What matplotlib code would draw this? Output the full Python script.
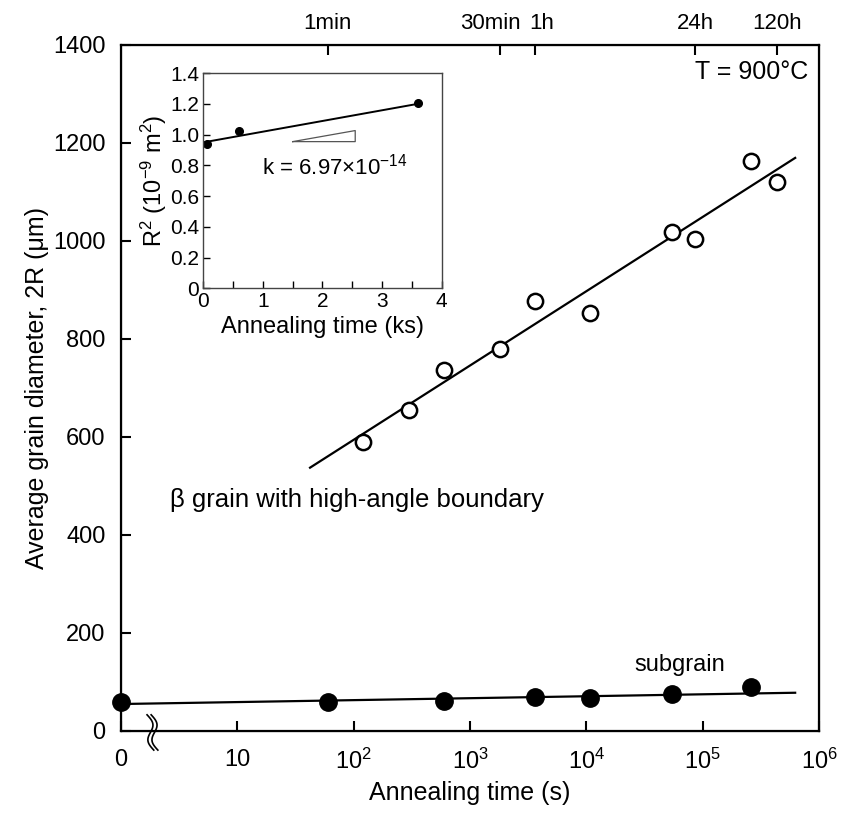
import numpy as np
import matplotlib
matplotlib.use("Agg")
import matplotlib.pyplot as plt
from matplotlib.transforms import ScaledTranslation

plt.rcParams['font.family'] = ['Liberation Sans', 'DejaVu Sans']
plt.rcParams['mathtext.fontset'] = 'custom'
plt.rcParams['mathtext.rm'] = 'Liberation Sans'
plt.rcParams['mathtext.it'] = 'Liberation Sans:italic'

# beta grains (open circles), annealing time in s, diameter in um
beta_t = [120, 300, 600, 1800, 3600, 10800, 54000, 86400, 259200, 432000]
beta_d = [589, 655, 737, 780, 878, 854, 1019, 1004, 1164, 1121]
beta_fit = (291.0, 151.6)          # d = a + b*log10(t)
beta_fit_range = (10**1.625, 10**5.795)

# subgrains (filled circles); t = 0 is drawn at the "0" position
sub_t = [0, 60, 600, 3600, 10800, 54000, 259200]
sub_d = [58.6, 59.8, 61.8, 68.8, 66.7, 74.9, 89.2]
sub_fit = (55.0, 3.97)
sub_fit_range = (1, 10**5.795)

# inset: R^2 vs time
ins_t = [0.06, 0.6, 3.6]           # ks
ins_r2 = [0.94, 1.024, 1.204]      # 10^-9 m^2
ins_fit = (0.95, 0.0697)

xticks = [1, 10, 1e2, 1e3, 1e4, 1e5, 1e6]
xticklabels = ['0', '10', '$10^2$', '$10^3$', '$10^4$', '$10^5$', '$10^6$']
top_ticks = [60, 1800, 3600, 86400, 432000]
top_labels = ['1min', '30min', '1h', '24h', '120h']

fig = plt.figure(figsize=(8.42, 8.16), dpi=100)
ax = fig.add_axes([0.1437, 0.1042, 0.829, 0.8407])

t0 = np.array([t if t > 0 else 1 for t in sub_t], dtype=float)

tt = np.logspace(np.log10(beta_fit_range[0]), np.log10(beta_fit_range[1]), 50)
ax.plot(tt, beta_fit[0] + beta_fit[1] * np.log10(tt), color='black', lw=1.6, zorder=2)
tt = np.logspace(np.log10(sub_fit_range[0]), np.log10(sub_fit_range[1]), 50)
ax.plot(tt, sub_fit[0] + sub_fit[1] * np.log10(tt), color='black', lw=1.6, zorder=2)

ax.plot(beta_t, beta_d, 'o', mfc='white', mec='black', mew=1.8, ms=11, zorder=3)
ax.plot(t0, sub_d, 'o', color='black', ms=12.5, zorder=3, clip_on=False)

ax.set_xscale('log')
ax.set_xlim(1, 1e6)
ax.set_ylim(0, 1400)
ax.set_xticks(xticks)
ax.set_xticklabels(xticklabels)
ax.minorticks_off()
ax.set_yticks(np.arange(0, 1401, 200))
ax.tick_params(direction='in', length=7, width=1.5, labelsize=17)
ax.tick_params(axis='x', pad=13)
ax.tick_params(axis='y', pad=11)
for s in ax.spines.values():
    s.set_linewidth(1.6)

ax.set_xlabel('Annealing time (s)', fontsize=18, labelpad=5)
ax.set_ylabel('Average grain diameter, 2R (μm)', fontsize=18, labelpad=3)

top = ax.twiny()
top.set_xscale('log')
top.set_xlim(ax.get_xlim())
top.set_xticks(top_ticks)
top.set_xticklabels(top_labels)
top.minorticks_off()
top.tick_params(direction='in', length=7, width=1.5, labelsize=16, pad=8)
# "30min" and "1h" sit close together: nudge them apart a little
shifts = {'30min': -7, '1h': 5}
for lab in top.get_xticklabels():
    dx = shifts.get(lab.get_text(), 0)
    if dx:
        lab.set_transform(lab.get_transform() + ScaledTranslation(dx / 72, 0, fig.dpi_scale_trans))

ax.text(0.985, 0.96, 'T = 900°C', transform=ax.transAxes, ha='right', va='center', fontsize=18)
ax.text(2.64, 471, 'β grain with high-angle boundary', ha='left', va='center', fontsize=18.5)
ax.text(10**4.80, 134, 'subgrain', ha='center', va='center', fontsize=17)

# axis break mark near the origin
yy = np.linspace(-39, 33, 40)
for x0 in (1.78, 1.93):
    xx = x0 * 10**(0.035 * np.sin(np.pi * (yy + 3) / 36) - 0.0008 * yy)
    ax.plot(xx, yy, color='black', lw=1.2, clip_on=False, zorder=5)

# inset
ins = fig.add_axes([0.2414, 0.6467, 0.2831, 0.2635])
ins.plot([0, 3.6], [ins_fit[0], ins_fit[0] + ins_fit[1] * 3.6], color='black', lw=1.4)
ins.plot(ins_t, ins_r2, 'o', color='black', ms=5.5, clip_on=False)
ins.plot([1.5, 2.55, 2.55, 1.5], [0.955, 0.955, 1.027, 0.955], color='#555555', lw=0.9)
ins.text(0.98, 0.79, 'k = 6.97×10$^{-14}$', fontsize=16, va='center')
ins.set_xlim(0, 4)
ins.set_ylim(0, 1.4)
ins.set_xticks([0, 1, 2, 3, 4])
ins.set_xticks(np.arange(0, 4.01, 0.5), minor=True)
ins.set_yticks(np.arange(0, 1.41, 0.2))
ins.set_yticklabels(['0', '0.2', '0.4', '0.6', '0.8', '1.0', '1.2', '1.4'])
ins.tick_params(direction='in', length=5, width=1, labelsize=15, pad=3)
ins.tick_params(which='minor', direction='in', length=5, width=1)
for s in ins.spines.values():
    s.set_linewidth(1.0)
    s.set_color('#444444')
ins.set_xlabel('Annealing time (ks)', fontsize=17, labelpad=3)
ins.set_ylabel('R$^2$ (10$^{-9}$ m$^2$)', fontsize=17, labelpad=1)

fig.savefig('out.png', dpi=100)
